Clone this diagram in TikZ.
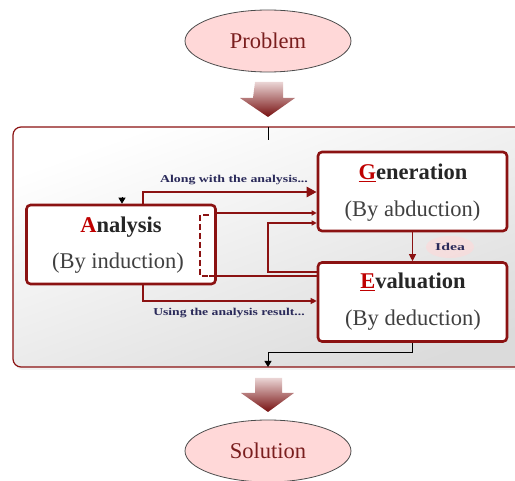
\documentclass[tikz,border=0pt]{standalone}
\usepackage{fontspec}
\setmainfont{Liberation Serif}
\usetikzlibrary{arrows.meta,shapes.geometric,shadows,calc}
\definecolor{dred}{HTML}{8B1212}
\definecolor{pinkfill}{HTML}{FFD8D8}
\definecolor{navy}{HTML}{2A2A5A}
\definecolor{txtred}{HTML}{7A1E1E}
\tikzset{
  oval/.style={ellipse, draw=black!70, thick, fill=pinkfill, minimum width=166pt, minimum height=62pt, inner sep=0pt, font=\fontsize{22.5}{24}\selectfont, text=txtred},
  stepbox/.style={draw=dred, line width=2.6pt, rounded corners=4pt, fill=white, minimum width=189pt, minimum height=79pt, inner sep=0pt},
  ttl/.style={font=\bfseries\fontsize{22.5}{24}\selectfont, text=black!85},
  sub/.style={font=\fontsize{22.5}{24}\selectfont, text=black!75},
  lbl/.style={font=\bfseries\fontsize{10.5}{12}\selectfont, text=navy, inner sep=0pt},
  thickcon/.style={draw=dred, line width=2.6pt},
  midcon/.style={draw=dred, line width=1.4pt},
  thincon/.style={draw=dred, line width=1.1pt},
  blk/.style={draw=black, line width=1pt},
  fat/.style={draw=none, top color=dred!18, bottom color=dred!85!black},
}
\begin{document}
\begin{tikzpicture}[x=1pt,y=-1pt]
\useasboundingbox (0,0) rectangle (515,481);
% background panel with faint shadow
\fill[black!5, rounded corners=8pt] (15,130) rectangle (540,370);
\shade[draw=dred, line width=1.2pt, rounded corners=8pt, shading=axis, top color=white, bottom color=black!14, shading angle=20]
  (13,127) rectangle (540,367);
% ovals
\node[oval] (prob) at (268,41) {Problem};
\node[oval] (sol) at (268,451) {Solution};
% fat arrows
\shade[fat] (255,82) -- (283,82) -- (283,98) -- (295,98) -- (268,117) -- (240,98) -- (253,98) -- cycle;
\shade[fat] (255,378) -- (282,378) -- (282,393) -- (294,393) -- (268,412) -- (241,393) -- (255,393) -- cycle;
% boxes
\node[stepbox] (ana) at (121,244.5) {};
\node[stepbox] (gen) at (412.5,191.5) {};
\node[stepbox] (eva) at (412.5,302) {};
\node[ttl] at (121,227) {\textcolor{red!75!black}{A}nalysis};
\node[sub] at (118,263) {(By induction)};
\node[ttl] at (413,173) {\textcolor{red!75!black}{\underline{G}}eneration};
\node[sub] at (412.5,211) {(By abduction)};
\node[ttl] at (413,282) {\textcolor{red!75!black}{\underline{E}}valuation};
\node[sub] at (413,320) {(By deduction)};
% dashed bracket
\draw[dred, line width=1.8pt, dashed, dash pattern=on 6pt off 3pt] (209,215) -- (200,215) -- (200,276) -- (209,276);
% top stub and small arrow
\coordinate (topin) at (268,127);
\draw[blk] (topin) -- (268,140);
\draw[blk, -{Triangle[length=6pt,width=7pt]}] (122,197) -- (ana.north -| 122,0);
% connectors analysis -> generation
\coordinate (a1) at (143,205);
\draw[thickcon, -{Triangle[length=10pt,width=10pt]}] (ana.north -| a1) |- (gen.west |- 0,192);
\node[lbl] at (234,180) {\scalebox{1.32}[1]{Along with the analysis...}};
\draw[midcon, -{Triangle[length=5pt,width=5pt]}] (ana.east |- 0,213) -- (gen.west |- 0,213);
% feedback evaluation -> generation
\draw[thincon, -{Triangle[length=5pt,width=5pt]}] (eva.west |- 0,272) -| (268,223) -- (gen.west |- 0,223);
% analysis -> evaluation
\draw[thincon] (209,276) -- (eva.west |- 0,276);
\draw[thincon, -{Triangle[length=6pt,width=6pt]}] (ana.south -| a1) |- (eva.west |- 0,301);
\node[lbl] at (229,313) {\scalebox{1.3}[1]{Using the analysis result...}};
% idea
\draw[thincon, -{Triangle[length=7pt,width=7pt]}] (gen.south) -- (eva.north);
\fill[red!15, opacity=0.6] (450,247) ellipse (24pt and 11pt);
\node[lbl] at (450,247) {\scalebox{1.5}[1]{Idea}};
% evaluation -> out
\coordinate (botout) at (268,367);
\draw[blk, -{Triangle[length=6pt,width=7pt]}] (eva.south) |- (268,353) -- (botout);
\end{tikzpicture}
\end{document}
